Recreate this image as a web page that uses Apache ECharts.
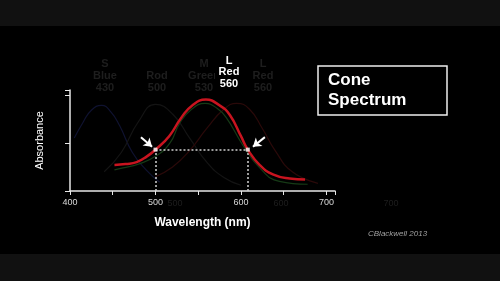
<!DOCTYPE html>
<html><head><meta charset="utf-8">
<script src="https://cdn.jsdelivr.net/npm/echarts@6/dist/echarts.min.js"></script>
<style>html,body{margin:0;padding:0;background:#000;}#c{width:500px;height:281px;}</style>
</head><body><div id="c"></div>
<script>
// ---- data ----
const xTicks = [400, 500, 600, 700];
const lWl  = [452,465,478,490,500,516,530,543,559,575,587,600,608,622,638,657,675];
const lAbs = [0.27,0.28,0.30,0.36,0.43,0.57,0.76,0.89,0.95,0.89,0.79,0.57,0.43,0.27,0.17,0.13,0.12];
const mWl  = [452,462,480,500,517,528,541,558,572,583,602,622,645,678];
const mAbs = [0.22,0.24,0.28,0.36,0.50,0.70,0.84,0.91,0.86,0.76,0.48,0.24,0.10,0.07];
const sWl  = [405,415,425,437,448,458,473,489,505];
const sAbs = [0.55,0.71,0.84,0.89,0.82,0.68,0.40,0.22,0.09];
const rodWl  = [440,460,480,500,520,540,560,580,600];
const rodAbs = [0.20,0.40,0.72,0.90,0.80,0.55,0.30,0.14,0.06];
const lfWl  = [500,520,540,560,580,595,610,625,640,660,690];
const lfAbs = [0.15,0.25,0.42,0.65,0.85,0.91,0.85,0.65,0.42,0.20,0.08];
const crossWl  = [500, 608];
const crossAbs = [0.43, 0.43];
const arrowFrom = [[483, 0.56], [628, 0.56]];
const arrowTo   = [[496, 0.46], [614, 0.46]];

const zip = (a, b) => a.map((v, i) => [v, b[i]]);
const chart = echarts.init(document.getElementById('c'));
const F = 'Liberation Sans, Arial, sans-serif';
const faint = '#1e1e1e';

function faintLine(d, color) {
  return { type: 'line', data: d, smooth: true, symbol: 'none', z: 1,
    lineStyle: { color: color, width: 1.2 } };
}

chart.setOption({
  backgroundColor: '#000',
  animation: false,
  grid: { left: 70, right: 165, top: 90, bottom: 90 },
  xAxis: {
    type: 'value', min: 400, max: 710, interval: 50,
    axisLine: { lineStyle: { color: '#e8e8e8', width: 1.5 } },
    axisTick: { show: true, length: 4, lineStyle: { color: '#e8e8e8' } },
    splitLine: { show: false },
    axisLabel: { color: '#d8d8d8', fontSize: 9, fontFamily: F, margin: 7,
      formatter: v => xTicks.indexOf(v) >= 0 ? String(v) : '' },
    name: 'Wavelength (nm)', nameLocation: 'middle', nameGap: 26,
    nameTextStyle: { color: '#fff', fontSize: 12, fontWeight: 'bold', fontFamily: F }
  },
  yAxis: {
    type: 'value', min: 0, max: 1.05, interval: 0.5,
    axisLine: { show: true, lineStyle: { color: '#e8e8e8', width: 1.5 } },
    axisTick: { show: true, length: 5, lineStyle: { color: '#e8e8e8' } },
    axisLabel: { show: false },
    splitLine: { show: false },
    name: 'Absorbance', nameLocation: 'middle', nameGap: 25, nameRotate: 90,
    nameTextStyle: { color: '#fff', fontSize: 11, fontFamily: F }
  },
  series: [
    faintLine(zip(sWl, sAbs), '#0f1230'),
    faintLine(zip(rodWl, rodAbs), '#141414'),
    faintLine(zip(lfWl, lfAbs), '#2a0909'),
    faintLine(zip(mWl, mAbs), '#163a16'),
    { type: 'line', data: zip(lWl, lAbs), smooth: true, symbol: 'none', z: 5,
      lineStyle: { color: '#c8141f', width: 2.5 },
      markLine: { silent: true, symbol: 'none', z: 4,
        lineStyle: { color: '#d0d0d0', type: [2, 2], width: 1.5 }, label: { show: false },
        data: [
          [{ coord: [crossWl[0], crossAbs[0]] }, { coord: [crossWl[1], crossAbs[1]] }],
          [{ coord: [crossWl[0], 0] }, { coord: [crossWl[0], crossAbs[0]] }],
          [{ coord: [crossWl[1], 0] }, { coord: [crossWl[1], crossAbs[1]] }]
        ] } },
    { type: 'line', data: [], markLine: { silent: true, symbol: ['none', 'arrow'], symbolSize: 8,
        lineStyle: { color: '#fff', width: 2, type: 'solid' }, label: { show: false },
        data: arrowFrom.map((p, i) => [{ coord: p }, { coord: arrowTo[i] }]) } },
    { type: 'scatter', data: zip(crossWl, crossAbs), symbol: 'rect', symbolSize: 4, z: 6,
      itemStyle: { color: '#fff' } }
  ],
  graphic: [
    { type: 'rect', shape: { x: 0, y: 0, width: 500, height: 26 }, style: { fill: '#111' } },
    { type: 'rect', shape: { x: 0, y: 254, width: 500, height: 27 }, style: { fill: '#111' } },
    { type: 'text', x: 105, y: 58, style: { text: 'S\nBlue\n430', fill: faint, font: 'bold 11px ' + F, align: 'center', lineHeight: 12 } },
    { type: 'text', x: 157, y: 70, style: { text: 'Rod\n500', fill: faint, font: 'bold 11px ' + F, align: 'center', lineHeight: 12 } },
    { type: 'text', x: 204, y: 58, style: { text: 'M\nGreen\n530', fill: faint, font: 'bold 11px ' + F, align: 'center', lineHeight: 12 } },
    { type: 'text', x: 263, y: 58, style: { text: 'L\nRed\n560', fill: faint, font: 'bold 11px ' + F, align: 'center', lineHeight: 12 } },
    { type: 'rect', shape: { x: 215, y: 54, width: 28, height: 36 }, style: { fill: '#000' } },
    { type: 'text', x: 229, y: 55, style: { text: 'L\nRed\n560', fill: '#fff', font: 'bold 11px ' + F, align: 'center', lineHeight: 11.5 } },
    { type: 'text', x: 175, y: 199, style: { text: '500', fill: '#1e1e1e', font: '9px ' + F, align: 'center' } },
    { type: 'text', x: 281, y: 199, style: { text: '600', fill: '#1e1e1e', font: '9px ' + F, align: 'center' } },
    { type: 'text', x: 391, y: 199, style: { text: '700', fill: '#1e1e1e', font: '9px ' + F, align: 'center' } },
    { type: 'rect', shape: { x: 318, y: 66, width: 129, height: 49 }, style: { fill: 'none', stroke: '#eee', lineWidth: 1.5 } },
    { type: 'text', x: 328, y: 70, style: { text: 'Cone\nSpectrum', fill: '#fff', font: 'bold 17px ' + F, lineHeight: 20 } },
    { type: 'text', x: 368, y: 230, style: { text: 'CBlackwell 2013', fill: '#a0a0a0', font: 'italic 8px ' + F } }
  ]
});
</script></body></html>
